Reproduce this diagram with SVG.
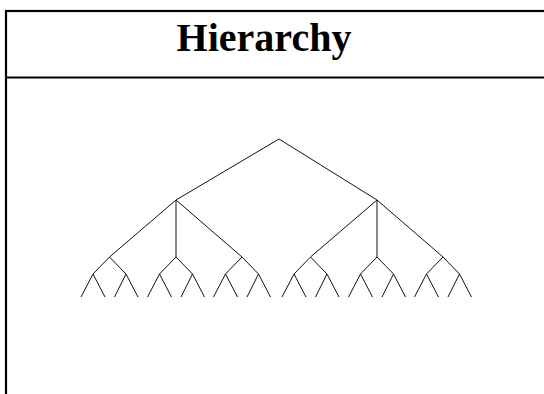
<svg xmlns="http://www.w3.org/2000/svg" width="544" height="394" viewBox="0 0 544 394">
<style>
.frame{fill:none;stroke:#000;stroke-width:2.2}
.edge{stroke:#111;stroke-width:1;fill:none}
.title{font-family:"Liberation Serif","Times New Roman",serif;font-weight:bold;font-size:40px;fill:#000}
</style>
<rect fill="#fff" x="0" y="0" width="544" height="394"/>
<g id="frame">
<rect class="frame" x="6" y="11" width="600" height="500"/>
<line class="frame" x1="6" y1="77.5" x2="544" y2="77.5"/>
<text class="title" x="264" y="51" text-anchor="middle">Hierarchy</text>
</g>
<g id="connectors">
<path class="edge" d="M279,139 L176,200 M279,139 L377,200"/>
<g id="left">
<path class="edge" d="M176,200 L109.5,257 M176,200 L176,257 M176,200 L242,257"/>
<path class="edge" d="M109.5,257 L93,274 M109.5,257 L126,274 M93,274 L81,297 M93,274 L105,297 M126,274 L114.5,297 M126,274 L138,297"/>
<path class="edge" d="M176,257 L159.5,274 M176,257 L192.5,274 M159.5,274 L147.5,297 M159.5,274 L171.5,297 M192.5,274 L181,297 M192.5,274 L204.5,297"/>
<path class="edge" d="M242,257 L225.5,274 M242,257 L258.5,274 M225.5,274 L213.5,297 M225.5,274 L237.5,297 M258.5,274 L247,297 M258.5,274 L270.5,297"/>
</g>
<g id="right" transform="translate(201,0)">
<path class="edge" d="M176,200 L109.5,257 M176,200 L176,257 M176,200 L242,257"/>
<path class="edge" d="M109.5,257 L93,274 M109.5,257 L126,274 M93,274 L81,297 M93,274 L105,297 M126,274 L114.5,297 M126,274 L138,297"/>
<path class="edge" d="M176,257 L159.5,274 M176,257 L192.5,274 M159.5,274 L147.5,297 M159.5,274 L171.5,297 M192.5,274 L181,297 M192.5,274 L204.5,297"/>
<path class="edge" d="M242,257 L225.5,274 M242,257 L258.5,274 M225.5,274 L213.5,297 M225.5,274 L237.5,297 M258.5,274 L247,297 M258.5,274 L270.5,297"/>
</g>
</g>
</svg>
